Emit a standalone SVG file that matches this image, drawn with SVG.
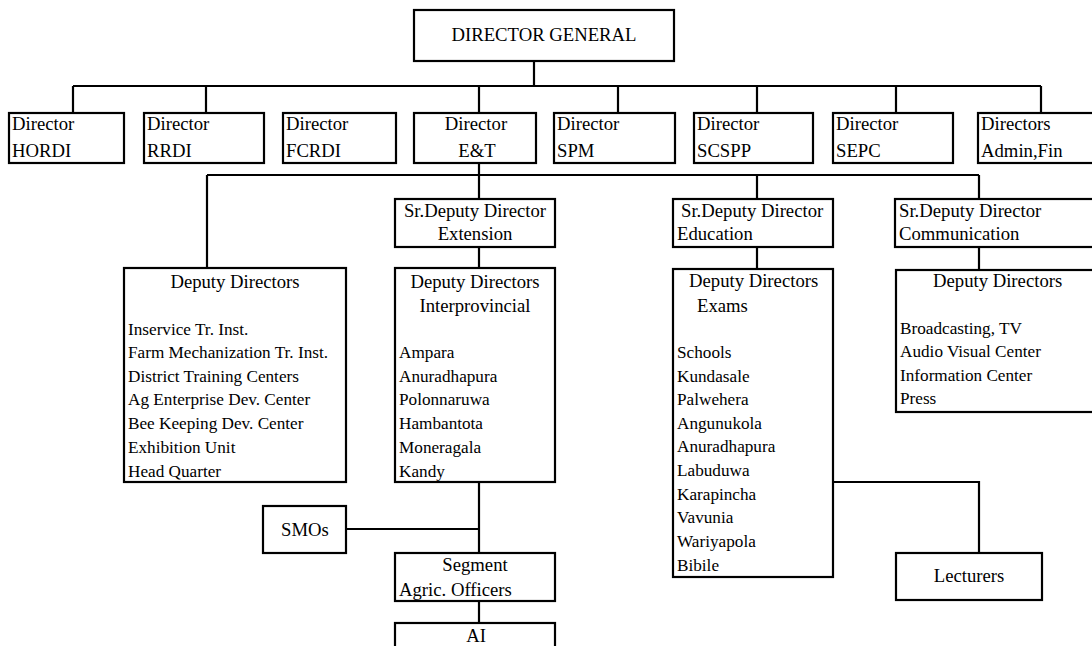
<svg xmlns="http://www.w3.org/2000/svg" width="1092" height="646" viewBox="0 0 1092 646">
<style>
  .box { fill: #ffffff; stroke: #000000; stroke-width: 2.2; }
  .ln { fill: none; stroke: #000000; stroke-width: 2.2; }
  text { font-family: "Liberation Serif", "Times New Roman", serif; fill: #000000; }
  .h { font-size: 18.7px; }
  .l { font-size: 17.2px; }
  .c { text-anchor: middle; }
</style>
<rect x="0" y="0" width="1092" height="646" fill="#ffffff"/>
<g id="connectors">
  <path class="ln" d="M534 61 V86 M73 86 H1041 M73 86 V113 M206 86 V113 M479 86 V113 M618 86 V113 M757 86 V113 M896 86 V113 M1041 86 V113"/>
  <path class="ln" d="M479 163 V199 M207 175 H979 M207 175 V268 M757 175 V199 M979 175 V199"/>
  <path class="ln" d="M479 247 V268 M757 247 V269 M979 247 V270"/>
  <path class="ln" d="M479 482 V553 M346 529 H479 M479 601 V623"/>
  <path class="ln" d="M833 482 H979 V553"/>
</g>
<g id="dg">
  <rect class="box" x="414" y="10" width="260" height="51"/>
  <text class="h c" x="544" y="41">DIRECTOR GENERAL</text>
</g>
<g id="hordi">
  <rect class="box" x="9" y="113" width="115" height="50"/>
  <text class="h" x="12" y="130">Director</text>
  <text class="h" x="12" y="157">HORDI</text>
</g>
<g id="rrdi">
  <rect class="box" x="144" y="113" width="120" height="50"/>
  <text class="h" x="147" y="130">Director</text>
  <text class="h" x="147" y="157">RRDI</text>
</g>
<g id="fcrdi">
  <rect class="box" x="283" y="113" width="113" height="50"/>
  <text class="h" x="286" y="130">Director</text>
  <text class="h" x="286" y="157">FCRDI</text>
</g>
<g id="et">
  <rect class="box" x="414" y="113" width="122" height="50"/>
  <text class="h c" x="476" y="130">Director</text>
  <text class="h c" x="477" y="157">E&amp;T</text>
</g>
<g id="spm">
  <rect class="box" x="554" y="113" width="121" height="50"/>
  <text class="h" x="557" y="130">Director</text>
  <text class="h" x="557" y="157">SPM</text>
</g>
<g id="scspp">
  <rect class="box" x="694" y="113" width="119" height="50"/>
  <text class="h" x="697" y="130">Director</text>
  <text class="h" x="697" y="157">SCSPP</text>
</g>
<g id="sepc">
  <rect class="box" x="833" y="113" width="120" height="50"/>
  <text class="h" x="836" y="130">Director</text>
  <text class="h" x="836" y="157">SEPC</text>
</g>
<g id="adminfin">
  <rect class="box" x="978" y="113" width="120" height="50"/>
  <text class="h" x="981" y="130">Directors</text>
  <text class="h" x="981" y="157">Admin,Fin</text>
</g>
<g id="sdd-extension">
  <rect class="box" x="395" y="199" width="160" height="48"/>
  <text class="h c" x="475" y="217">Sr.Deputy Director</text>
  <text class="h c" x="475" y="240">Extension</text>
</g>
<g id="sdd-education">
  <rect class="box" x="673" y="199" width="160" height="48"/>
  <text class="h" x="681" y="217">Sr.Deputy Director</text>
  <text class="h" x="677" y="240">Education</text>
</g>
<g id="sdd-communication">
  <rect class="box" x="895" y="199" width="200" height="48"/>
  <text class="h" x="899" y="217">Sr.Deputy Director</text>
  <text class="h" x="899" y="240">Communication</text>
</g>
<g id="dd-training">
  <rect class="box" x="124" y="268" width="222" height="214"/>
  <text class="h c" x="235" y="288">Deputy Directors</text>
  <text class="l" x="128" y="335">Inservice Tr. Inst.</text>
  <text class="l" x="128" y="358">Farm Mechanization Tr. Inst.</text>
  <text class="l" x="128" y="382">District Training Centers</text>
  <text class="l" x="128" y="405">Ag Enterprise Dev. Center</text>
  <text class="l" x="128" y="429">Bee Keeping Dev. Center</text>
  <text class="l" x="128" y="453">Exhibition Unit</text>
  <text class="l" x="128" y="477">Head Quarter</text>
</g>
<g id="dd-interprovincial">
  <rect class="box" x="395" y="268" width="160" height="214"/>
  <text class="h c" x="475" y="288">Deputy Directors</text>
  <text class="h c" x="475" y="312">Interprovincial</text>
  <text class="l" x="399" y="358">Ampara</text>
  <text class="l" x="399" y="382">Anuradhapura</text>
  <text class="l" x="399" y="405">Polonnaruwa</text>
  <text class="l" x="399" y="429">Hambantota</text>
  <text class="l" x="399" y="453">Moneragala</text>
  <text class="l" x="399" y="477">Kandy</text>
</g>
<g id="dd-exams">
  <rect class="box" x="673" y="269" width="160" height="308"/>
  <text class="h" x="689" y="287">Deputy Directors</text>
  <text class="h" x="697" y="312">Exams</text>
  <text class="l" x="677" y="358">Schools</text>
  <text class="l" x="677" y="382">Kundasale</text>
  <text class="l" x="677" y="405">Palwehera</text>
  <text class="l" x="677" y="429">Angunukola</text>
  <text class="l" x="677" y="452">Anuradhapura</text>
  <text class="l" x="677" y="476">Labuduwa</text>
  <text class="l" x="677" y="500">Karapincha</text>
  <text class="l" x="677" y="523">Vavunia</text>
  <text class="l" x="677" y="547">Wariyapola</text>
  <text class="l" x="677" y="571">Bibile</text>
</g>
<g id="dd-communication">
  <rect class="box" x="896" y="270" width="200" height="142"/>
  <text class="h" x="933" y="287">Deputy Directors</text>
  <text class="l" x="900" y="334">Broadcasting, TV</text>
  <text class="l" x="900" y="357">Audio Visual Center</text>
  <text class="l" x="900" y="381">Information Center</text>
  <text class="l" x="900" y="404">Press</text>
</g>
<g id="smos">
  <rect class="box" x="263" y="506" width="83" height="47"/>
  <text class="h c" x="305" y="536">SMOs</text>
</g>
<g id="segment">
  <rect class="box" x="395" y="553" width="160" height="48"/>
  <text class="h c" x="475" y="571">Segment</text>
  <text class="h" x="399" y="596">Agric. Officers</text>
</g>
<g id="ai">
  <rect class="box" x="395" y="623" width="160" height="40"/>
  <text class="h c" x="476" y="642">AI</text>
</g>
<g id="lecturers">
  <rect class="box" x="896" y="553" width="146" height="47"/>
  <text class="h c" x="969" y="582">Lecturers</text>
</g>
</svg>
